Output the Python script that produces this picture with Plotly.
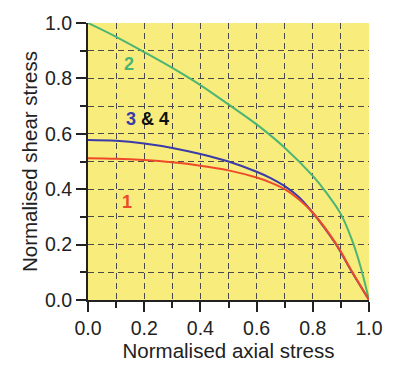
import plotly.graph_objects as go

# Normalised axial stress sample points for the two lower criteria
axial_low = [0.0, 0.1, 0.2, 0.3, 0.4, 0.5, 0.6, 0.65, 0.7, 0.75, 0.8, 0.88, 0.94, 1.0]
shear_1 = [0.512, 0.510, 0.505, 0.497, 0.485, 0.468, 0.442, 0.424, 0.400, 0.364, 0.315, 0.207, 0.102, 0.0]
shear_34 = [0.578, 0.575, 0.565, 0.549, 0.527, 0.500, 0.463, 0.440, 0.411, 0.372, 0.315, 0.205, 0.100, 0.0]

# Normalised axial / shear stress for criterion 2
axial_2 = [0.0, 0.1, 0.2, 0.3, 0.4, 0.5, 0.6, 0.7, 0.8, 0.85, 0.9, 0.94, 0.97, 1.0]
shear_2 = [1.0, 0.950, 0.895, 0.838, 0.776, 0.706, 0.634, 0.550, 0.448, 0.385, 0.310, 0.215, 0.120, 0.0]

tick_vals = [0.0, 0.2, 0.4, 0.6, 0.8, 1.0]
tick_text = ["0.0", "0.2", "0.4", "0.6", "0.8", "1.0"]

RED = "#EE4A2A"
BLUE = "#3A3AA8"
GREEN = "#4DB573"
FONT = "Liberation Sans, Arial, sans-serif"
INK = "#222222"

fig = go.Figure()
for xs, ys, col in [(axial_2, shear_2, GREEN), (axial_low, shear_34, BLUE), (axial_low, shear_1, RED)]:
    fig.add_trace(go.Scatter(x=xs, y=ys, mode="lines", line=dict(color=col, width=2, shape="spline", smoothing=1),
                             showlegend=False, hoverinfo="skip"))

labels = [
    (0.147, 0.851, f"<b><span style='color:{GREEN}'>2</span></b>"),
    (0.21, 0.655, f"<b><span style='color:{BLUE}'>3</span> &amp; 4</b>"),
    (0.14, 0.355, f"<b><span style='color:{RED}'>1</span></b>"),
]
for x, y, t in labels:
    fig.add_annotation(x=x, y=y, text=t, showarrow=False, font=dict(size=18, color="#111111", family=FONT))

grid_dash = "6px,4px"
axis_common = dict(
    range=[0, 1], tickvals=tick_vals, ticktext=tick_text, ticks="outside", ticklen=10, tickwidth=2,
    tickcolor=INK, showline=True, linecolor=INK, linewidth=2,
    showgrid=True, gridcolor="#4a4a4a", gridwidth=1.2, griddash=grid_dash, zeroline=False,
    tickfont=dict(size=19.5, color=INK, family=FONT),
    minor=dict(dtick=0.1, ticks="outside", ticklen=6, tickwidth=1.5, tickcolor=INK,
               showgrid=True, gridcolor="#4a4a4a", gridwidth=1.2, griddash=grid_dash),
)

fig.update_layout(
    width=395, height=370,
    margin=dict(l=88, r=18, t=15, b=68),
    plot_bgcolor="#F7EC7C", paper_bgcolor="white",
    xaxis=dict(axis_common, title=dict(text="Normalised axial stress", font=dict(size=20.5, color=INK, family=FONT), standoff=4)),
    yaxis=dict(axis_common, title=dict(text="Normalised shear stress", font=dict(size=20.5, color=INK, family=FONT), standoff=2)),
)

fig.write_html("out.html")
